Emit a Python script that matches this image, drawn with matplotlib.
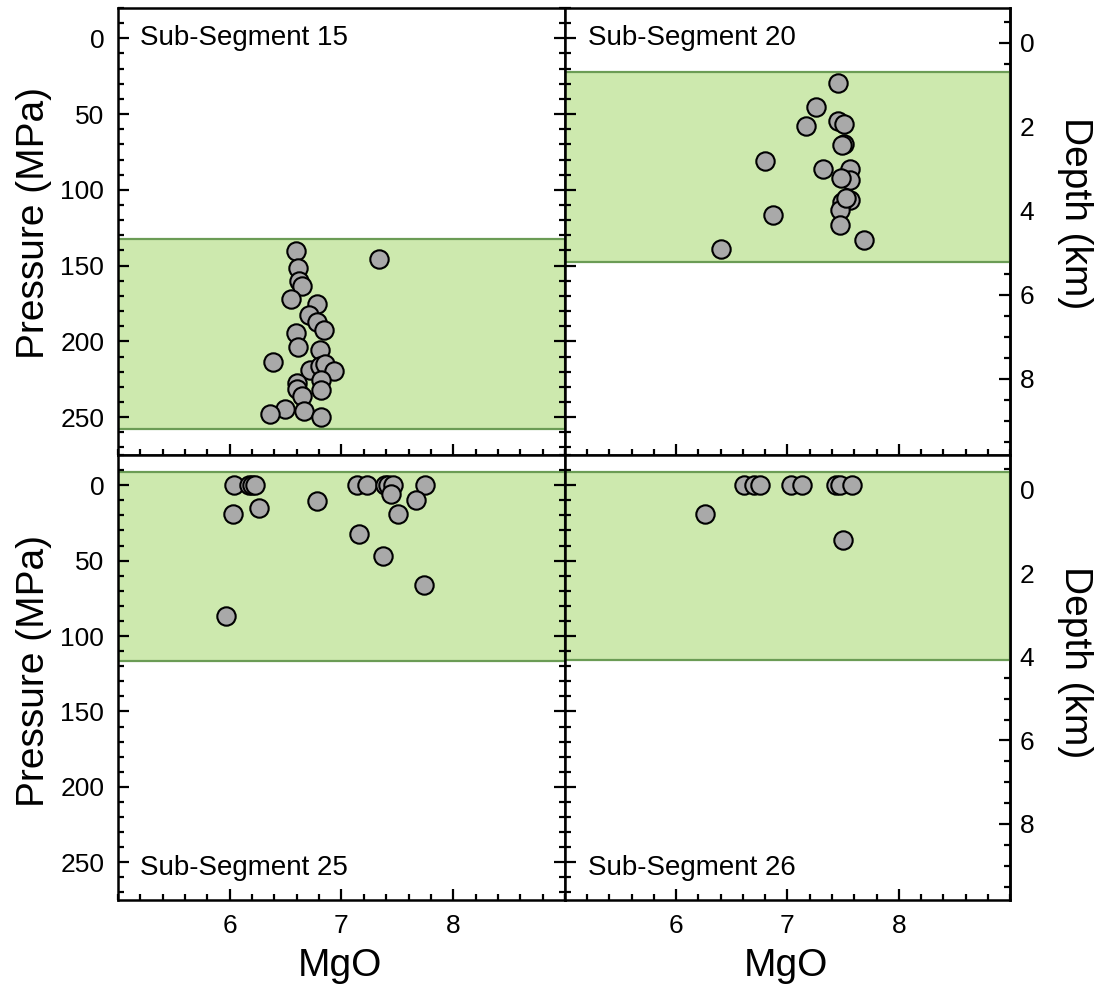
import matplotlib
matplotlib.use("Agg")
import matplotlib.pyplot as plt
from matplotlib.ticker import MultipleLocator

plt.rcParams['font.family'] = ['Liberation Sans', 'DejaVu Sans']

# --- data ---
mgo_15 = [6.59, 7.34, 6.61, 6.62, 6.65, 6.55, 6.78, 6.71, 6.78, 6.84, 6.59, 6.61, 6.81, 6.39,
          6.72, 6.81, 6.85, 6.93, 6.82, 6.60, 6.60, 6.82, 6.65, 6.49, 6.36, 6.66, 6.82]
p_15 = [140.6, 145.5, 151.6, 160.4, 163.7, 172.3, 175.1, 182.8, 187.2, 192.7, 194.2, 203.7, 205.9, 213.6,
        218.6, 216.4, 215.1, 219.5, 225.2, 227.4, 231.1, 232.2, 236.0, 244.3, 248.2, 246.0, 249.8]

mgo_20 = [7.45, 7.26, 7.17, 7.45, 7.51, 7.51, 7.49, 6.80, 7.32, 7.56, 7.56, 7.48, 6.87, 7.56,
          7.49, 7.47, 7.53, 7.47, 7.69, 6.40]
p_20 = [29.3, 45.6, 57.8, 54.8, 56.5, 69.7, 70.5, 81.1, 86.2, 86.2, 93.2, 92.1, 116.3, 107.0,
        108.2, 113.0, 105.3, 122.9, 133.0, 139.3]

mgo_25 = [6.04, 6.17, 6.20, 6.23, 6.03, 6.26, 6.78, 7.14, 7.23, 7.39, 7.42, 7.46, 7.75, 7.44,
          7.67, 7.51, 7.16, 7.37, 7.74, 5.97]
p_25 = [0, 0, 0, 0, 19.0, 15.3, 10.2, 0, 0, 0, 0, 0, 0, 5.8,
        9.8, 19.4, 32.1, 47.1, 66.2, 86.6]

mgo_26 = [6.61, 6.70, 6.75, 7.03, 7.13, 7.44, 7.47, 7.58, 6.26, 7.50]
p_26 = [0, 0, 0, 0, 0, 0, 0, 0, 19.4, 36.1]

# pressure range of the shaded band per sub-segment (MPa)
band_15 = (132.3, 257.5)
band_20 = (21.9, 147.7)
band_25 = (-8.8, 116.5)
band_26 = (-9.0, 116.0)

depth_ticks = [0, 2, 4, 6, 8]

panels = [
    ("Sub-Segment 15", mgo_15, p_15, band_15),
    ("Sub-Segment 20", mgo_20, p_20, band_20),
    ("Sub-Segment 25", mgo_25, p_25, band_25),
    ("Sub-Segment 26", mgo_26, p_26, band_26),
]

MPA_PER_KM = 27.7
P_OFFSET = 3.0


def p2d(p):
    return (p - P_OFFSET) / MPA_PER_KM


def d2p(d):
    return d * MPA_PER_KM + P_OFFSET


fig = plt.figure(figsize=(11, 9.89), dpi=100)

left, mid_x, right = 0.1073, 0.5136, 0.9182
bottom, mid_y, top = 0.0900, 0.5399, 0.9919
rects = [
    [left, mid_y, mid_x - left, top - mid_y],
    [mid_x, mid_y, right - mid_x, top - mid_y],
    [left, bottom, mid_x - left, mid_y - bottom],
    [mid_x, bottom, right - mid_x, mid_y - bottom],
]

for i, (name, x, p, band) in enumerate(panels):
    ax = fig.add_axes(rects[i])
    is_left = i % 2 == 0
    is_top = i < 2

    ax.axhspan(band[0], band[1], facecolor="#cde9ae", edgecolor="#6b9c55", linewidth=1.6, zorder=1)
    ax.scatter(x, p, s=175, facecolor="#a9a9a9", edgecolor="black", linewidth=1.5, zorder=3)

    ax.set_xlim(5, 9)
    ax.set_ylim(275, -20)
    ax.xaxis.set_minor_locator(MultipleLocator(0.2))
    ax.set_xticks([6, 7, 8])
    ax.yaxis.set_minor_locator(MultipleLocator(10))
    ax.set_yticks([0, 50, 100, 150, 200, 250])

    for s in ax.spines.values():
        s.set_linewidth(1.8)

    ax.tick_params(which="both", direction="in", top=False, bottom=True,
                   left=True, right=is_left, labelsize=19, width=1.6)
    ax.tick_params(which="major", length=8)
    ax.tick_params(which="minor", length=4)
    ax.tick_params(axis="y", pad=10, labelleft=is_left, labelright=False)
    ax.tick_params(axis="x", pad=10, labelbottom=not is_top)

    if not is_left:
        # depth scale on the right
        sec = ax.secondary_yaxis("right", functions=(p2d, d2p))
        sec.set_yticks(depth_ticks)
        sec.yaxis.set_minor_locator(MultipleLocator(0.5))
        sec.tick_params(which="both", direction="in", labelsize=19, width=1.6, pad=7)
        sec.tick_params(which="major", length=8)
        sec.tick_params(which="minor", length=4)
        sec.spines["right"].set_linewidth(1.8)

    if not is_top:
        ax.set_xlabel("MgO", fontsize=28)
        ax.xaxis.set_label_coords(0.497, -0.108)

    ty = 0.933 if is_top else 0.072
    tx = 0.049 if is_left else 0.052
    ax.text(tx, ty, name, transform=ax.transAxes, fontsize=20, va="center", ha="left", zorder=4)

# side labels
for yc in (0.775, 0.322):
    fig.text(0.031, yc, "Pressure (MPa)", fontsize=28, rotation=90, ha="center", va="center")
    fig.text(0.977, yc + 0.009, "Depth (km)", fontsize=28, rotation=-90, ha="center", va="center")

fig.savefig("out.png", dpi=100)
